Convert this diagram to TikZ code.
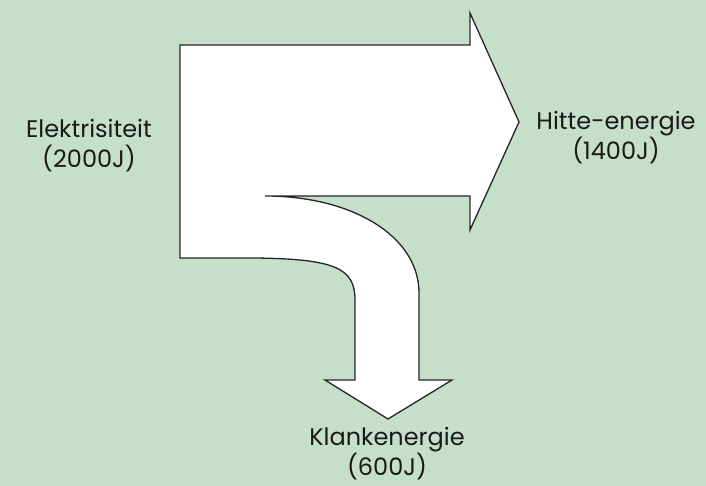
\documentclass[tikz,border=0pt]{standalone}
\usepackage{fontspec}
\setmainfont{Poppins}
\definecolor{bg}{HTML}{C5DFCB}
\definecolor{txt}{HTML}{1A1A1A}
\begin{document}
\begin{tikzpicture}[x=1pt,y=-1pt,
  lbl/.style={align=center,text=txt,font=\fontsize{24}{30}\selectfont,inner sep=0pt},
  flow/.style={draw=black!85,line width=1.3pt,fill=white,line join=miter}]
\fill[bg] (0,0) rectangle (706,486);
\useasboundingbox (0,0) rectangle (706,486);
\draw[flow] (180,45) -- (470,45) -- (470,13) -- (519,122) -- (470,230) -- (470,196)
  -- (265,196) .. controls (352,196) and (419,236) .. (419,293)
  -- (419,380) -- (452,380) -- (388,419) -- (325,380) -- (355,380)
  -- (355,300) .. controls (355,268) and (335,259) .. (255,258)
  -- (180,258) -- cycle;
\node[lbl] (src) at (89,146) {Elektrisiteit\\(2000J)};
\node[lbl] (heat) at (616,138) {Hitte-energie\\(1400J)};
\node[lbl] (sound) at (387,454) {Klankenergie\\(600J)};
\end{tikzpicture}
\end{document}
